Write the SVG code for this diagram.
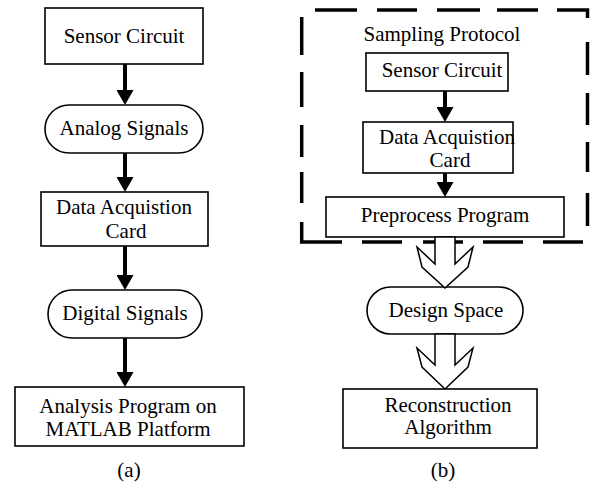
<svg xmlns="http://www.w3.org/2000/svg" width="595" height="486" viewBox="0 0 595 486">
  <style>
    .box { fill: #fff; stroke: #000; stroke-width: 1.6; }
    .lbl { font-family: "Liberation Serif", "Times New Roman", serif; font-size: 21px; fill: #000; text-anchor: middle; }
    .flow { stroke: #000; stroke-width: 4; fill: none; marker-end: url(#head); }
    .wide { fill: #fff; stroke: #000; stroke-width: 1.5; stroke-linejoin: miter; }
    .frame { fill: none; stroke: #000; stroke-width: 3.5; stroke-linecap: butt; }
  </style>
  <defs>
    <marker id="head" viewBox="0 0 15 17" markerWidth="15" markerHeight="17" markerUnits="userSpaceOnUse" refX="0" refY="8.5" orient="auto">
      <path d="M0,0 L15,8.5 L0,17 Z" fill="#000"/>
    </marker>
  </defs>
  <rect width="595" height="486" fill="#fff"/>

  <!-- (a) chain -->
  <g id="a-sensor">
    <rect class="box" x="45" y="8" width="158" height="56"/>
    <text class="lbl" x="124" y="43">Sensor Circuit</text>
  </g>
  <g id="a-analog">
    <rect class="box" x="45" y="105" width="158" height="48" rx="24" ry="24"/>
    <text class="lbl" x="124" y="135">Analog Signals</text>
  </g>
  <g id="a-daq">
    <rect class="box" x="41" y="192" width="167" height="54"/>
    <text class="lbl" x="124" y="214">Data Acquistion</text>
    <text class="lbl" x="126" y="238">Card</text>
  </g>
  <g id="a-digital">
    <rect class="box" x="48" y="290" width="154" height="48" rx="24" ry="24"/>
    <text class="lbl" x="125" y="320">Digital Signals</text>
  </g>
  <g id="a-analysis">
    <rect class="box" x="15" y="387" width="229" height="59"/>
    <text class="lbl" x="128" y="413">Analysis Program on</text>
    <text class="lbl" x="128" y="436">MATLAB Platform</text>
  </g>
  <g id="a-caption">
    <text class="lbl" x="129" y="477">(a)</text>
  </g>

  <!-- (b) sampling protocol frame -->
  <g id="b-protocol">
    <path class="frame" d="M315,10 H357 M377,10 H417 M437,10 H480 M497,10 H538 M557,10 H587.5 V18
      M587.5,42 V75 M587.5,93 V125 M587.5,142 V172 M587.5,193 V226
      M583,242 H543 M523,242 H483 M463,242 H423 M402,242 H362 M342,242 H301.7 V222
      M301.7,203 V172 M301.7,157 V125 M301.7,107 V72 M301.7,55 V17"/>
    <text class="lbl" x="442" y="41">Sampling Protocol</text>
  </g>
  <g id="b-sensor">
    <rect class="box" x="366" y="53" width="142" height="38"/>
    <text class="lbl" x="442" y="77">Sensor Circuit</text>
  </g>
  <g id="b-daq">
    <rect class="box" x="363" y="122" width="150" height="51"/>
    <text class="lbl" x="447" y="144">Data Acquistion</text>
    <text class="lbl" x="450" y="167">Card</text>
  </g>
  <g id="b-preprocess">
    <rect class="box" x="326" y="197" width="238" height="40"/>
    <text class="lbl" x="445" y="222">Preprocess Program</text>
  </g>
  <g id="b-design">
    <rect class="box" x="367" y="287" width="156" height="47" rx="23.5" ry="23.5"/>
    <text class="lbl" x="446" y="317">Design Space</text>
  </g>
  <g id="b-reconstruction">
    <rect class="box" x="343" y="389" width="194" height="59"/>
    <text class="lbl" x="448" y="412">Reconstruction</text>
    <text class="lbl" x="448" y="434">Algorithm</text>
  </g>
  <g id="b-caption">
    <text class="lbl" x="443" y="477">(b)</text>
  </g>

  <!-- connectors -->
  <g id="connectors">
    <line class="flow" x1="125" y1="64" x2="125" y2="90"/>
    <line class="flow" x1="125" y1="153" x2="125" y2="177"/>
    <line class="flow" x1="125" y1="246" x2="125" y2="275"/>
    <line class="flow" x1="125" y1="338" x2="125" y2="372"/>
    <line class="flow" x1="445" y1="91" x2="445" y2="107"/>
    <line class="flow" x1="445" y1="173" x2="445" y2="182"/>
    <polygon class="wide" points="435,237 435,264 417,247 422,267 445,288 468,267 473,247 455,264 455,237"/>
    <polygon class="wide" points="435,334 435,365 417,348 422,367 445,389 468,367 473,348 455,365 455,334"/>
  </g>
</svg>
